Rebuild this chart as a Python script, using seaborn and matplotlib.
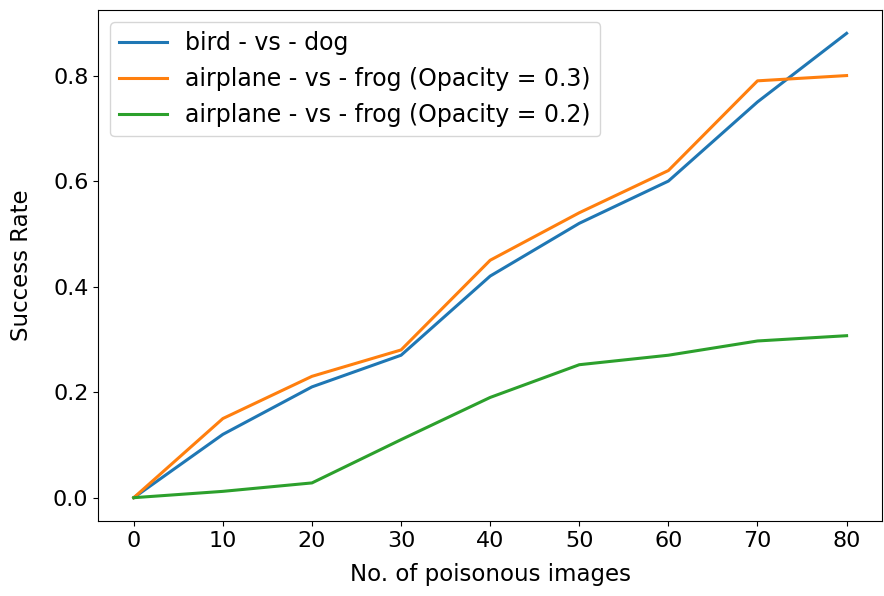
"""Success rate vs number of poisonous images"""
import matplotlib
matplotlib.use("Agg")
import matplotlib.pyplot as plt
import pandas as pd
import seaborn as sns

images = [0, 10, 20, 30, 40, 50, 60, 70, 80]
bird_dog = [0.0, 0.12, 0.21, 0.27, 0.42, 0.52, 0.60, 0.75, 0.88]
plane_frog_03 = [0.0, 0.15, 0.23, 0.28, 0.45, 0.54, 0.62, 0.79, 0.80]
plane_frog_02 = [0.0, 0.012, 0.028, 0.11, 0.19, 0.252, 0.27, 0.297, 0.307]
labels = [
    "bird - vs - dog",
    "airplane - vs - frog (Opacity = 0.3)",
    "airplane - vs - frog (Opacity = 0.2)",
]

df = pd.DataFrame({
    "images": images * 3,
    "rate": bird_dog + plane_frog_03 + plane_frog_02,
    "series": [labels[0]] * 9 + [labels[1]] * 9 + [labels[2]] * 9,
})

plt.rcParams["font.family"] = ["DejaVu Sans"]
plt.rcParams["font.size"] = 16.5

fig, ax = plt.subplots(figsize=(8.84, 5.96), dpi=100)
sns.lineplot(data=df, x="images", y="rate", hue="series", hue_order=labels,
             palette=["#1f77b4", "#ff7f0e", "#2ca02c"], linewidth=2.2, ax=ax)
ax.set_xticks(images)
ax.set_yticks([0.0, 0.2, 0.4, 0.6, 0.8])
ax.tick_params(labelsize=16)
ax.set_xlabel("No. of poisonous images", fontsize=16.5, labelpad=9)
ax.set_ylabel("Success Rate", fontsize=16.5, labelpad=14)
ax.legend(title=None, loc="upper left", fontsize=17)
fig.subplots_adjust(left=0.111, right=0.998, bottom=0.126, top=0.983)
fig.savefig("out.png", dpi=100)
